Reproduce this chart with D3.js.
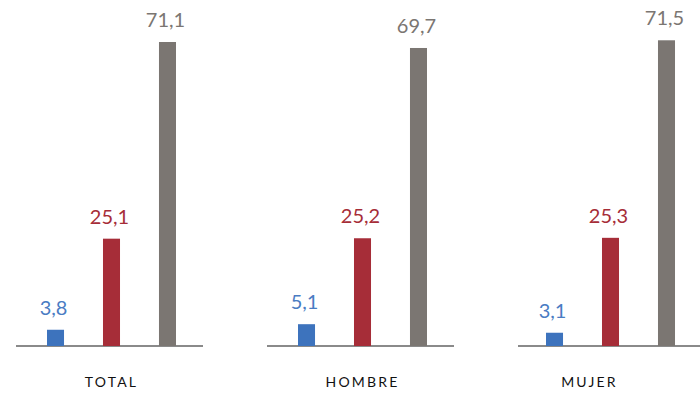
<!DOCTYPE html>
<html>
<head>
<meta charset="utf-8">
<script src="https://cdn.jsdelivr.net/npm/d3@7"></script>
<style>
  html, body { margin: 0; padding: 0; background: #fff; }
  svg { display: block; }
</style>
</head>
<body>
<svg id="chart" width="700" height="393"></svg>
<script>
// data
const groups = ["TOTAL", "HOMBRE", "MUJER"];
const series = ["s1", "s2", "s3"];
const values_s1 = [3.8, 5.1, 3.1];
const values_s2 = [25.1, 25.2, 25.3];
const values_s3 = [71.1, 69.7, 71.5];

const colors = ["#3d73bd", "#a62d38", "#7b7672"];
const labelColors = ["#4a7cc3", "#a62d38", "#7b7672"];

let width = 700, height = 393;
let baseY = 346;

let svg = d3.select("#chart");

let rows = groups.map((g, i) => ({
    group: g,
    vals: [values_s1[i], values_s2[i], values_s3[i]]
}));

let x0 = d3.scaleBand()
    .domain(groups)
    .range([16, 705])
    .paddingInner(0.255)
    .paddingOuter(0);

let x1 = d3.scaleBand()
    .domain(series)
    .range([31, 160])
    .paddingInner(0.696)
    .paddingOuter(0);

let y = d3.scaleLinear()
    .domain([0, 71.1])
    .range([baseY, 42]);

let fmt = d3.formatLocale({decimal: ",", thousands: ".", grouping: [3], currency: ["", ""]}).format(".1f");

let g = svg.selectAll(".grp")
    .data(rows)
    .join("g")
    .attr("class", "grp")
    .attr("transform", d => "translate(" + x0(d.group) + ",0)");

// baseline of each group
g.append("line")
    .attr("x1", 0)
    .attr("x2", x0.bandwidth())
    .attr("y1", baseY)
    .attr("y2", baseY)
    .style("stroke", "#8a8a8a")
    .style("stroke-width", 2);

// third group's bars sit a little left in the original
const barShift = {MUJER: -3};

let bars = g.selectAll(".bar")
    .data(d => d.vals.map((v, i) => ({key: series[i], v: v, i: i, grp: d.group})))
    .join("g")
    .attr("class", "bar")
    .attr("transform", d => "translate(" + (barShift[d.grp] || 0) + ",0)");

bars.append("rect")
    .attr("x", d => x1(d.key))
    .attr("y", d => y(d.v))
    .attr("width", x1.bandwidth())
    .attr("height", d => baseY - y(d.v))
    .style("fill", d => colors[d.i]);

bars.append("text")
    .attr("x", d => x1(d.key) + x1.bandwidth() / 2 - 2)
    .attr("y", d => y(d.v) - 15)
    .attr("text-anchor", "middle")
    .style("font-family", "Lato, sans-serif")
    .style("font-size", "20px")
    .style("fill", d => labelColors[d.i])
    .text(d => fmt(d.v));

// the last label sits a bit left in the original
const labelShift = {MUJER: -24};

g.append("text")
    .attr("x", d => x0.bandwidth() / 2 + 2 + (labelShift[d.group] || 0))
    .attr("y", 387)
    .attr("text-anchor", "middle")
    .style("font-family", "Lato, sans-serif")
    .style("font-size", "14px")
    .style("letter-spacing", "2.2px")
    .style("fill", "#111")
    .text(d => d.group);
</script>
</body>
</html>
